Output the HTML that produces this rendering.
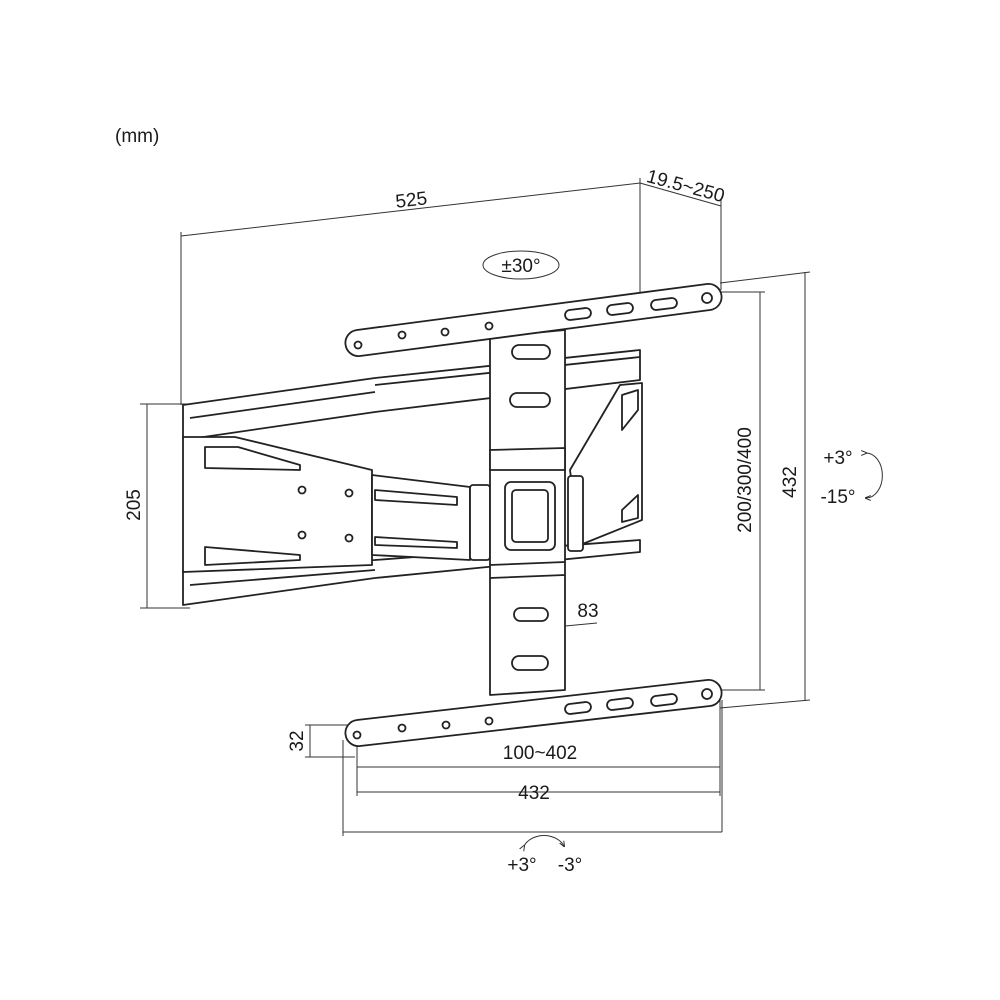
<!DOCTYPE html>
<html><head><style>body{margin:0;background:#fff}svg{display:block}text{font-family:"Liberation Sans",sans-serif;fill:#1a1a1a}</style></head>
<body>
<svg width="1000" height="1000" viewBox="0 0 1000 1000" xmlns="http://www.w3.org/2000/svg">
<defs><marker id="a" viewBox="0 0 10 10" refX="8" refY="5" markerWidth="6" markerHeight="6" orient="auto"><path d="M0,1 L10,5 L0,9" fill="none" stroke="#222" stroke-width="1.5"/></marker></defs>
<g stroke="#333" stroke-width="1" fill="none">
<line x1="181" y1="236" x2="640" y2="183"/>
<line x1="181" y1="232" x2="181" y2="405"/>
<line x1="640" y1="178" x2="640" y2="300"/>
<line x1="640" y1="183" x2="721" y2="206"/>
<line x1="721" y1="200" x2="721" y2="290"/>
<line x1="140" y1="404" x2="190" y2="404"/>
<line x1="140" y1="608" x2="190" y2="608"/>
<line x1="147" y1="404" x2="147" y2="608"/>
<line x1="715" y1="292" x2="765" y2="292"/>
<line x1="715" y1="690" x2="765" y2="690"/>
<line x1="760" y1="292" x2="760" y2="690"/>
<line x1="720" y1="283" x2="810" y2="272"/>
<line x1="720" y1="708" x2="810" y2="700"/>
<line x1="805" y1="272" x2="805" y2="700"/>
<line x1="305" y1="725" x2="355" y2="725"/>
<line x1="305" y1="757" x2="355" y2="757"/>
<line x1="310" y1="725" x2="310" y2="757"/>
<line x1="357" y1="745" x2="357" y2="796"/>
<line x1="720" y1="700" x2="720" y2="796"/>
<line x1="357" y1="767" x2="720" y2="767"/>
<line x1="357" y1="792" x2="720" y2="792"/>
<line x1="343" y1="740" x2="343" y2="836"/>
<line x1="722" y1="700" x2="722" y2="832"/>
<line x1="343" y1="832" x2="722" y2="832"/>
<line x1="490" y1="633" x2="597" y2="623"/>
<ellipse cx="521" cy="265" rx="38" ry="14"/>
<path d="M866,453 A16,22 0 0 1 866,498" marker-start="url(#a)" marker-end="url(#a)"/>
<path d="M524,846 A22,18 0 0 1 564,846" marker-start="url(#a)" marker-end="url(#a)"/>
</g>
<g stroke="#222" stroke-width="1.8" fill="#fff" stroke-linejoin="round">
<path d="M183,405 L375,378 L640,350 L640,380 L375,412 L183,440 Z"/>
<path d="M375,385 L640,357 M190,418 L375,392"/>
<path d="M183,570 L375,560 L640,540 L640,552 L375,578 L183,605 Z"/>
<path d="M190,585 L375,570"/>
<path d="M183,437 L235,437 L372,470 L372,565 L183,572 Z"/>
<path d="M205,447 L238,447 L300,465 L300,470 L205,468 Z"/>
<path d="M205,547 L300,555 L300,560 L205,565 Z"/>
<circle cx="302" cy="490" r="3.5"/><circle cx="349" cy="493" r="3.5"/><circle cx="302" cy="535" r="3.5"/><circle cx="349" cy="538" r="3.5"/>
<path d="M372,475 L470,487 L470,560 L372,555 Z"/>
<path d="M375,490 L457,497 L457,505 L375,500 Z M375,537 L457,542 L457,548 L375,545 Z"/>
<rect x="470" y="485" width="20" height="75" rx="3"/>
<path d="M570,470 L620,385 L642,383 L642,520 L580,545 Z"/>
<path d="M622,395 L638,390 L638,410 L622,430 Z M622,510 L638,495 L638,518 L622,522 Z"/>
<rect x="568" y="476" width="15" height="75" rx="3"/>
<path d="M490,337 L565,330 L565,690 L490,695 Z"/>
<path d="M490,450 L565,448 L565,470 L490,470 Z"/>
<path d="M490,565 L565,562 M490,578 L565,575"/>
<rect x="505" y="482" width="50" height="68" rx="6"/>
<rect x="512" y="490" width="36" height="52" rx="4" fill="none"/>
<rect x="512" y="345" width="38" height="14" rx="7"/>
<rect x="510" y="393" width="40" height="14" rx="7"/>
<rect x="514" y="608" width="34" height="13" rx="6.5"/>
<rect x="512" y="656" width="36" height="14" rx="7"/>
<path d="M357,330 L707,284 A13,13 0 0 1 710,310 L360,356 A13,13 0 0 1 357,330 Z"/>
<circle cx="358" cy="345" r="3.5"/><circle cx="402" cy="335" r="3.5"/><circle cx="445" cy="332" r="3.5"/><circle cx="489" cy="326" r="3.5"/>
<rect x="565" y="309" width="26" height="10" rx="5" transform="rotate(-7 578 314)"/>
<rect x="607" y="304" width="26" height="10" rx="5" transform="rotate(-7 620 309)"/>
<rect x="651" y="299" width="26" height="10" rx="5" transform="rotate(-7 664 304)"/>
<circle cx="707" cy="298" r="5"/>
<path d="M357,720 L707,680 A13,13 0 0 1 710,706 L360,746 A13,13 0 0 1 357,720 Z"/>
<circle cx="357" cy="735" r="3.5"/><circle cx="402" cy="728" r="3.5"/><circle cx="446" cy="725" r="3.5"/><circle cx="489" cy="721" r="3.5"/>
<rect x="565" y="703" width="26" height="10" rx="5" transform="rotate(-7 578 708)"/>
<rect x="607" y="699" width="26" height="10" rx="5" transform="rotate(-7 620 704)"/>
<rect x="651" y="695" width="26" height="10" rx="5" transform="rotate(-7 664 700)"/>
<circle cx="707" cy="694" r="5"/>
</g>
<g font-size="19">
<text x="115" y="142">(mm)</text>
<text x="412" y="206" text-anchor="middle" transform="rotate(-6.6 412 206)">525</text>
<text x="684" y="192" text-anchor="middle" transform="rotate(15 684 192)">19.5~250</text>
<text x="521" y="272" text-anchor="middle">±30°</text>
<text x="140" y="505" text-anchor="middle" transform="rotate(-90 140 505)">205</text>
<text x="751" y="480" text-anchor="middle" transform="rotate(-90 751 480)">200/300/400</text>
<text x="796" y="482" text-anchor="middle" transform="rotate(-90 796 482)">432</text>
<text x="838" y="464" text-anchor="middle">+3°</text>
<text x="838" y="503" text-anchor="middle">-15°</text>
<text x="303" y="741" text-anchor="middle" transform="rotate(-90 303 741)">32</text>
<text x="540" y="759" text-anchor="middle">100~402</text>
<text x="534" y="799" text-anchor="middle">432</text>
<text x="588" y="617" text-anchor="middle">83</text>
<text x="522" y="871" text-anchor="middle">+3°</text>
<text x="570" y="871" text-anchor="middle">-3°</text>
</g>
</svg>
</body></html>
